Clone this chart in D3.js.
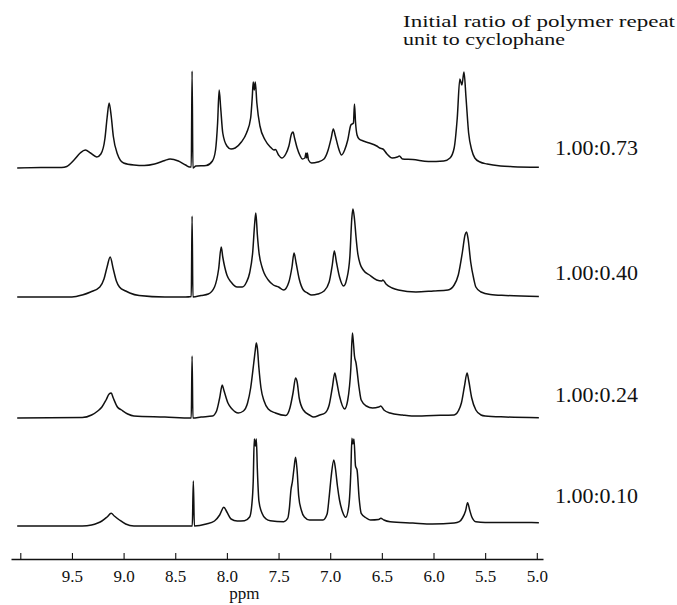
<!DOCTYPE html>
<html>
<head>
<meta charset="utf-8">
<script src="https://cdn.jsdelivr.net/npm/d3@7"></script>
<style>
  body { margin: 0; background: #fff; }
  text { font-family: "Liberation Serif", "Times New Roman", Times, serif; fill: #111; }
</style>
</head>
<body>
<script>
// spectra: [ppm, intensity]
const spec073 = [
  [10.03,0],[9.80,0.5],[9.60,0.5],[9.55,1.5],[9.48,8],[9.42,15],[9.37,18],[9.32,15],[9.26,11],[9.22,14],
  [9.18,30],[9.16,50],[9.14,65],[9.12,52],[9.10,32],[9.06,14],[9.00,5],[8.90,3],[8.80,2.5],[8.70,4],
  [8.60,7.5],[8.55,9],[8.47,7],[8.40,3],[8.36,1],[8.345,1],[8.337,97],[8.329,0],[8.30,2],[8.20,2.5],
  [8.14,7],[8.11,18],[8.09,45],[8.075,78],[8.06,60],[8.04,35],[8.00,22],[7.96,19],[7.92,20],[7.86,26],
  [7.81,35],[7.77,50],[7.755,70],[7.745,86],[7.735,78],[7.725,86],[7.71,65],[7.68,42],[7.63,28],[7.58,21],
  [7.545,18],[7.53,18.5],[7.50,13],[7.47,10],[7.43,14],[7.40,22],[7.375,34],[7.36,36],[7.345,30],[7.32,20],
  [7.29,12],[7.27,9],[7.245,10],[7.235,15],[7.228,10],[7.222,15],[7.21,8],[7.18,5],[7.12,6],[7.06,9],
  [7.02,18],[6.99,30],[6.97,39],[6.95,32],[6.92,20],[6.89,13],[6.86,18],[6.83,28],[6.80,43],[6.775,45],
  [6.765,64],[6.755,46],[6.74,33],[6.72,29],[6.68,27],[6.62,25],[6.55,22],[6.52,20],[6.49,19],[6.45,14],
  [6.40,10],[6.35,11],[6.33,12],[6.30,9],[6.20,8.5],[6.05,6.5],[5.90,7],[5.84,10],[5.80,20],[5.77,50],
  [5.745,89],[5.725,83],[5.705,96],[5.685,70],[5.66,35],[5.63,18],[5.60,10],[5.55,6],[5.48,4],[5.35,2],
  [5.23,1.3],[4.98,0.7]
];
const spec040 = [
  [10.03,0],[9.50,0],[9.40,2],[9.32,5],[9.23,10],[9.19,18],[9.16,30],[9.13,40],[9.10,28],[9.07,16],
  [9.04,10],[8.98,6],[8.94,4],[8.85,1.5],[8.60,0],[8.40,0],[8.345,0.5],[8.337,81],[8.329,0],[8.25,1.5],
  [8.18,3],[8.12,10],[8.08,28],[8.055,50],[8.04,40],[8.00,22],[7.96,15],[7.90,10],[7.85,10],[7.81,15],
  [7.78,24],[7.75,45],[7.73,75],[7.72,84],[7.705,62],[7.69,45],[7.66,30],[7.64,24],[7.60,17],[7.55,12],
  [7.50,10],[7.45,7],[7.40,15],[7.37,30],[7.35,44],[7.33,34],[7.30,18],[7.26,7],[7.22,4],[7.18,2],
  [7.12,3],[7.06,6],[7.01,15],[6.98,32],[6.96,46],[6.94,35],[6.91,20],[6.87,11],[6.84,18],[6.81,40],
  [6.79,80],[6.78,88],[6.765,78],[6.75,60],[6.735,45],[6.71,33],[6.68,27],[6.62,22],[6.55,17],[6.50,16],
  [6.49,17],[6.46,13],[6.40,9],[6.34,7],[6.17,5],[6.00,6],[5.86,7],[5.80,12],[5.76,22],[5.72,45],
  [5.695,62],[5.68,65],[5.665,58],[5.64,35],[5.61,18],[5.59,10],[5.54,5],[5.45,2.5],[5.30,1.5],[4.98,0.5]
];
const spec024 = [
  [10.03,0],[9.40,0.5],[9.31,3],[9.25,7],[9.21,11],[9.17,18],[9.14,24],[9.12,25],[9.10,20],[9.06,11],
  [9.02,8],[8.96,4],[8.90,2],[8.60,1],[8.345,0],[8.337,62],[8.329,0],[8.25,1],[8.14,2],[8.10,7],
  [8.07,20],[8.045,33],[8.03,28],[7.99,15],[7.95,9],[7.89,5],[7.84,7],[7.80,15],[7.77,30],[7.74,55],
  [7.725,68],[7.715,75],[7.705,70],[7.69,50],[7.67,30],[7.64,17],[7.60,9],[7.53,5],[7.43,2.5],[7.39,10],
  [7.36,25],[7.335,40],[7.32,36],[7.30,20],[7.26,8],[7.20,3],[7.16,1],[7.10,3],[7.05,5],[7.01,13],
  [6.98,30],[6.955,45],[6.94,38],[6.91,22],[6.86,9],[6.83,18],[6.80,50],[6.785,85],[6.775,75],[6.765,62],
  [6.75,55],[6.72,30],[6.70,18],[6.65,12],[6.59,10],[6.53,11],[6.51,12],[6.48,8],[6.42,5],[6.30,3],
  [6.21,2],[6.00,2.5],[5.80,3],[5.76,7],[5.73,15],[5.70,32],[5.675,45],[5.66,38],[5.63,20],[5.59,8],
  [5.54,3],[5.50,2],[5.30,1],[4.98,0.3]
];
const spec010 = [
  [10.03,0],[9.40,0],[9.31,1],[9.25,3],[9.21,5],[9.16,9],[9.12,12.7],[9.09,10],[9.04,6],[8.98,2],
  [8.90,0],[8.50,0],[8.335,0],[8.325,45],[8.315,0],[8.20,2],[8.12,5],[8.07,11],[8.03,18.7],[8.00,14],
  [7.96,7],[7.90,5],[7.83,5.3],[7.78,9],[7.76,20],[7.745,45],[7.735,87],[7.725,80],[7.715,87],[7.705,56],
  [7.69,25],[7.66,12.7],[7.62,7],[7.58,5.3],[7.45,4.3],[7.41,8],[7.395,18],[7.38,36],[7.365,45],[7.35,58],
  [7.335,68.7],[7.32,55],[7.305,30],[7.28,16],[7.25,9],[7.20,6],[7.07,6],[7.03,12],[7.01,29],[6.99,50],
  [6.965,66],[6.95,58],[6.93,40],[6.91,26],[6.88,14],[6.85,8.7],[6.82,20],[6.80,55],[6.79,87.7],[6.78,82],
  [6.77,87],[6.755,60],[6.74,56],[6.72,28],[6.70,12.7],[6.65,8],[6.61,6],[6.53,6.5],[6.51,7.7],[6.48,6],
  [6.42,4.3],[6.20,3],[6.01,2],[5.80,3],[5.75,4.3],[5.72,8],[5.69,15],[5.67,23.3],[5.65,16],[5.63,9.3],
  [5.59,4.3],[5.50,3.5],[5.20,3.5],[4.98,3.3]
];
const spectra = [spec073, spec040, spec024, spec010];
const ratioLabels = ['1.00:0.73', '1.00:0.40', '1.00:0.24', '1.00:0.10'];
const tickValues = [10.0, 9.5, 9.0, 8.5, 8.0, 7.5, 7.0, 6.5, 6.0, 5.5, 5.0];
const titleLines = ['Initial ratio of polymer repeat', 'unit to cyclophane'];

const w = 677;
const h = 605;
const traceBaseY = [168, 297, 418, 526];
const axisY = 559;

const svg = d3.select('body')
                .append('svg')
                .attr('width', w)
                .attr('height', h);

const xScale = d3.scaleLinear()
                .domain([10.09, 4.94])
                .range([11, 543]);

const yScale = d3.scaleLinear()
                .domain([0, 100])
                .range([0, -100]);

const line = d3.line()
                .x((d) => xScale(d[0]))
                .y((d) => yScale(d[1]))
                .curve(d3.curveMonotoneX);

spectra.forEach((spec, i) => {
    const g = svg.append('g')
        .attr('transform', 'translate(0, ' + traceBaseY[i] + ')');
    g.append('path')
        .datum(spec)
        .attr('d', line)
        .attr('fill', 'none')
        .attr('stroke', '#111')
        .attr('stroke-width', 1.5)
        .attr('stroke-linejoin', 'round');
    g.append('text')
        .attr('x', 555)
        .attr('y', [-13, -17, -16, -23][i])
        .attr('font-size', 21)
        .attr('textLength', 83)
        .attr('lengthAdjust', 'spacingAndGlyphs')
        .text(ratioLabels[i]);
});

// title at top right
svg.selectAll('.title')
    .data(titleLines)
    .enter()
    .append('text')
    .attr('class', 'title')
    .attr('x', 403)
    .attr('y', (d, i) => 27 + i * 18)
    .attr('font-size', 16)
    .attr('textLength', (d, i) => i === 0 ? 272 : 162)
    .attr('lengthAdjust', 'spacingAndGlyphs')
    .text((d) => d);

const xAxis = d3.axisBottom(xScale)
                .tickValues(tickValues)
                .tickSizeInner(-6)
                .tickSizeOuter(0)
                .tickFormat((d) => d === 10 ? '' : d.toFixed(1));

const axisG = svg.append('g')
    .attr('transform', 'translate(0, ' + axisY + ')')
    .call(xAxis);
axisG.select('.domain').attr('stroke', '#111').attr('stroke-width', 1.3);
axisG.selectAll('.tick line').attr('stroke', '#111').attr('stroke-width', 1.1);
axisG.selectAll('.tick text')
    .attr('y', 23)
    .attr('dy', null)
    .attr('font-size', 17)
    .attr('fill', '#111');

svg.append('text')
    .attr('x', xScale(7.83))
    .attr('y', 599)
    .attr('text-anchor', 'middle')
    .attr('font-size', 17)
    .text('ppm');
</script>
</body>
</html>
